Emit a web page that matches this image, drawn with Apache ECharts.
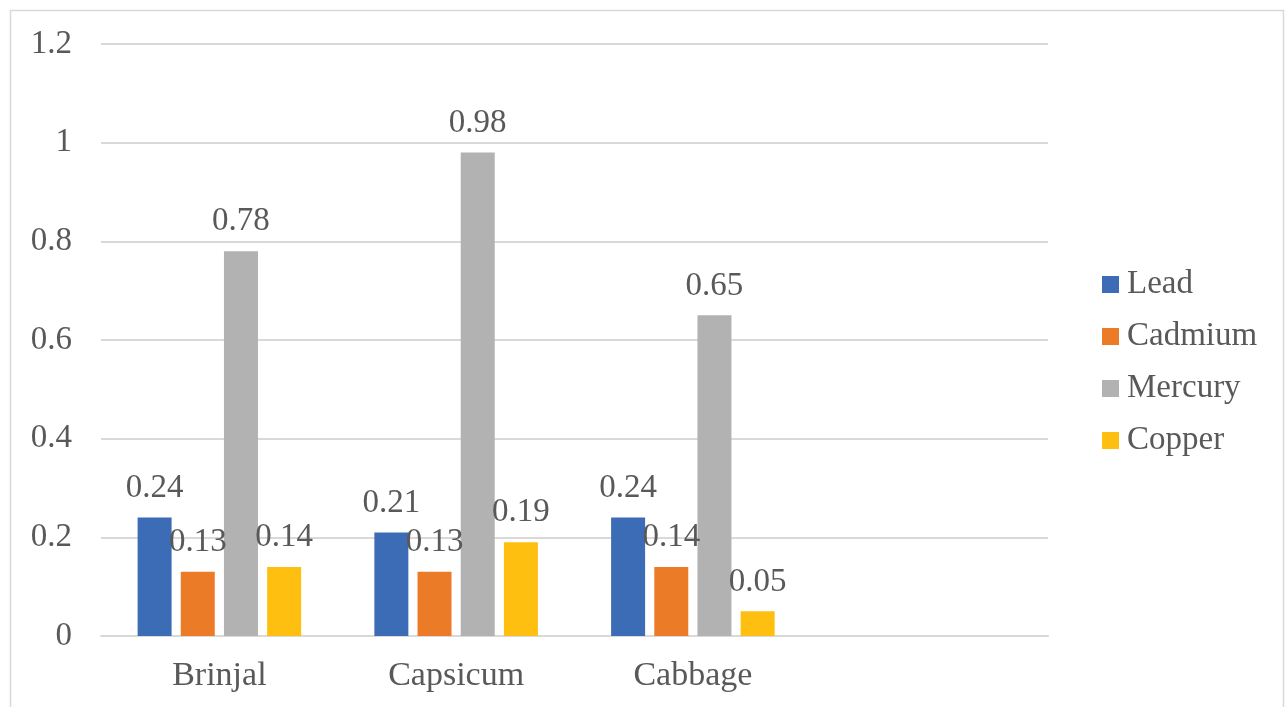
<!DOCTYPE html>
<html>
<head>
<meta charset="utf-8">
<script src="https://cdn.jsdelivr.net/npm/echarts@6/dist/echarts.min.js"></script>
<style>
html,body{margin:0;padding:0;background:#fff;}
#chart{width:1285px;height:707px;}
</style>
</head>
<body>
<div id="chart"></div>
<script>
const categories = ['Brinjal', 'Capsicum', 'Cabbage', ''];
const seriesNames = ['Lead', 'Cadmium', 'Mercury', 'Copper'];
const lead = [0.24, 0.21, 0.24, null];
const cadmium = [0.13, 0.13, 0.14, null];
const mercury = [0.78, 0.98, 0.65, null];
const copper = [0.14, 0.19, 0.05, null];
const yTicks = [0, 0.2, 0.4, 0.6, 0.8, 1, 1.2];

const colors = ['#3D6CB6', '#EC7B28', '#B2B2B2', '#FEBF11'];
const FONT = '"Liberation Serif", "Times New Roman", serif';
const TXT = '#595959';
const dataSets = [lead, cadmium, mercury, copper];

const chart = echarts.init(document.getElementById('chart'));
chart.setOption({
  animation: false,
  color: colors,
  graphic: [{
    type: 'rect',
    shape: { x: 10.5, y: 10.5, width: 1273, height: 720 },
    style: { fill: 'none', stroke: '#d9d9d9', lineWidth: 1.5 },
    silent: true
  }],
  grid: { left: 101, right: 237, top: 44, bottom: 71, containLabel: false },
  legend: {
    orient: 'vertical',
    left: 1097,
    top: 263,
    itemWidth: 17,
    itemHeight: 17,
    itemGap: 19,
    icon: 'rect',
    data: seriesNames,
    textStyle: { fontFamily: FONT, fontSize: 33, color: TXT, lineHeight: 32, padding: [0, 0, 0, 3] }
  },
  xAxis: {
    type: 'category',
    data: categories,
    axisTick: { show: false },
    axisLine: { lineStyle: { color: '#d9d9d9', width: 2 } },
    axisLabel: { fontFamily: FONT, fontSize: 34, color: TXT, margin: 23 }
  },
  yAxis: {
    type: 'value',
    min: yTicks[0],
    max: yTicks[yTicks.length - 1],
    interval: 0.2,
    axisLine: { show: false },
    axisTick: { show: false },
    splitLine: { lineStyle: { color: '#d9d9d9', width: 2 } },
    axisLabel: {
      fontFamily: FONT, fontSize: 33, color: TXT, margin: 29,
      formatter: function (v) { return String(Math.round(v * 10) / 10); }
    }
  },
  series: seriesNames.map(function (name, i) {
    return {
      name: name,
      type: 'bar',
      data: dataSets[i],
      barWidth: 34,
      barGap: '27%',
      itemStyle: { color: colors[i] },
      label: {
        show: true,
        position: 'top',
        distance: 13,
        fontFamily: FONT,
        fontSize: 33,
        color: TXT,
        formatter: function (p) { return p.value == null ? '' : String(p.value); }
      }
    };
  })
});
</script>
</body>
</html>
